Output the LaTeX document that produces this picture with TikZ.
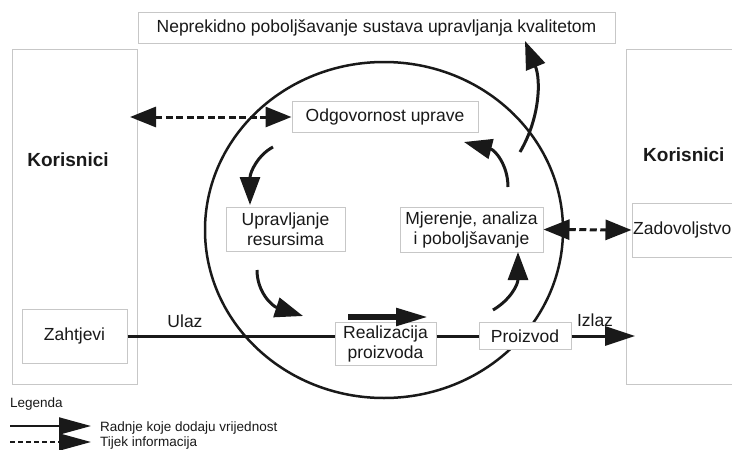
\documentclass[tikz,border=0pt]{standalone}
\usepackage{fontspec}
\setmainfont{Liberation Sans}
\usetikzlibrary{arrows.meta}
\definecolor{boxgray}{gray}{0.78}
\definecolor{ink}{gray}{0.1}
\begin{document}
\begin{tikzpicture}[x=1pt,y=-1pt,
  box/.style={draw=boxgray, line width=1pt, fill=white, text=ink, align=center, inner sep=0pt,
              font=\fontsize{17.5}{20}\selectfont},
  bigbox/.style={draw=boxgray, line width=1pt, inner sep=0pt},
  lbl/.style={text=ink, inner sep=0pt, font=\fontsize{17.5}{20}\selectfont},
  kor/.style={text=ink, inner sep=0pt, font=\fontsize{19}{22}\selectfont\bfseries},
  leg/.style={text=ink, inner sep=0pt, font=\fontsize{13.5}{15}\selectfont},
  mainline/.style={draw=ink, line width=3pt},
  cflow/.style={draw=ink, line width=3pt, -{Triangle[length=28pt,width=20pt]}},
  info/.style={draw=ink, line width=3pt, dash pattern=on 7pt off 3.5pt,
               {Triangle[length=26pt,width=20pt]}-{Triangle[length=26pt,width=20pt]}}]
\useasboundingbox (0,0) rectangle (732,450);
\clip (0,0) rectangle (732,450);

% big outer boxes
\node[bigbox, minimum width=125pt, minimum height=335pt] (korL) at (74.5,216.5) {};
\node[bigbox, minimum width=134pt, minimum height=335pt] (korR) at (693,216.5) {};
\node[kor] (korLt) at (68,160) {Korisnici};
\node[kor, anchor=west] (korRt) at (643,155) {Korisnici};

% circle
\draw[ink, line width=2.5pt] (384,230) ellipse [x radius=179, y radius=168];

% boxes
\node[box, minimum width=477pt, minimum height=31pt] (top) at (376.5,27.5) {Neprekidno poboljšavanje sustava upravljanja kvalitetom};
\node[box, minimum width=186pt, minimum height=31pt] (odg) at (385,116.5) {Odgovornost uprave};
\node[box, minimum width=119pt, minimum height=44pt] (upr) at (285.5,229) {Upravljanje\\resursima};
\node[box, minimum width=143pt, minimum height=45pt] (mje) at (471.5,229.5) {Mjerenje, analiza\\i poboljšavanje};
\node[box, minimum width=101pt, minimum height=43pt] (real) at (385.5,343.5) {Realizacija\\proizvoda};
\node[box, minimum width=92pt, minimum height=27pt] (proiz) at (525,336) {Proizvod};
\node[box, minimum width=105pt, minimum height=54pt] (zaht) at (74.5,336) {Zahtjevi};
\node[bigbox, fill=white, minimum width=128pt, minimum height=54pt] (zad) at (696,230) {};
\node[lbl, anchor=west] (zadt) at (633,230) {Zadovoljstvo};

% main flow line
\draw[mainline] (zaht.east) -- (real.west |- zaht.east);
\draw[mainline] (real.east |- zaht.east) -- (proiz.west);
\coordinate (izt) at (635,336);
\draw[mainline, -{Triangle[length=30pt,width=19pt]}] (proiz.east) -- (izt);
\node[lbl] (ulaz) at (185,321) {Ulaz};
\node[lbl] (izlaz) at (595,320) {Izlaz};

% thick arrow above Realizacija
\coordinate (ta) at (348,317);
\coordinate (tb) at (428,317);
\draw[draw=ink, line width=5.5pt, -{Triangle[length=32pt,width=17pt]}] (ta) -- (tb);

% curved arrows of the cycle
\coordinate (c1s) at (273,147);
\coordinate (c1e) at (250,205);
\draw[cflow] (c1s) .. controls (258,155) and (250,172) .. (c1e);
\coordinate (c2s) at (257,270);
\coordinate (c2e) at (303,316);
\draw[cflow] (c2s) .. controls (257,292) and (272,306) .. (c2e);
\coordinate (c3s) at (493,310);
\coordinate (c3e) at (518,252);
\draw[cflow] (c3s) .. controls (510,300) and (518,285) .. (c3e);
\coordinate (c4s) at (508,187);
\coordinate (c4e) at (464,142);
\draw[cflow] (c4s) .. controls (508,165) and (495,150) .. (c4e);
\coordinate (c5s) at (520,152);
\coordinate (c5e) at (525,41);
\draw[cflow] (c5s) .. controls (540,118) and (541,80) .. (c5e);

% information flows
\coordinate (dl) at (130,117);
\draw[info] (dl) -- (odg.west |- dl);
\draw[info] (mje.east) -- (zad.west);

% legend
\node[leg, anchor=base west] (legt) at (10,407) {Legenda};
\coordinate (l1a) at (10,426);
\coordinate (l1b) at (91,426);
\draw[draw=ink, line width=2pt, -{Triangle[length=32pt,width=17pt]}] (l1a) -- (l1b);
\node[leg, anchor=base west] (l1t) at (100,431) {Radnje koje dodaju vrijednost};
\coordinate (l2a) at (10,442);
\coordinate (l2b) at (91,442);
\draw[draw=ink, line width=2pt, dash pattern=on 5pt off 3pt, -{Triangle[length=32pt,width=17pt]}] (l2a) -- (l2b);
\node[leg, anchor=base west] (l2t) at (100,446) {Tijek informacija};
\end{tikzpicture}
\end{document}
